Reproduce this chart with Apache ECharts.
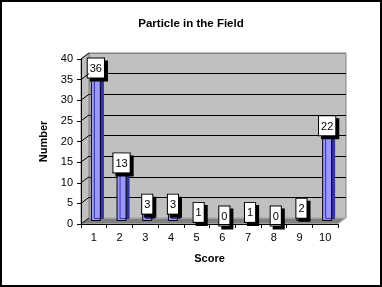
<!DOCTYPE html>
<html>
<head>
<meta charset="utf-8">
<script src="https://cdn.jsdelivr.net/npm/echarts@6/dist/echarts.min.js"></script>
<style>
  html, body { margin: 0; padding: 0; background: #fff; }
  #chart { width: 382px; height: 287px; }
</style>
</head>
<body>
<div id="chart"></div>
<script>
// data
const scores = ['1', '2', '3', '4', '5', '6', '7', '8', '9', '10']
const counts = [36, 13, 3, 3, 1, 0, 1, 0, 2, 22]
const yMin = 0, yMax = 40, yStep = 5

// fake 3d: front axes, bars in the middle, back wall behind
const W = 257, H = 165
const front = { left: 81, top: 59 }
const depth = { dx: 8, dy: -6 }
const FONT = 'Liberation Sans'

const chart = echarts.init(document.getElementById('chart'))

// back wall grid lines: grey at floor and top edge, black in between
const wallLines = []
for (let v = yMin; v <= yMax; v += yStep) wallLines.push(v === yMin || v === yMax ? '#808080' : '#000')

const hiddenX = (gi) => ({ type: 'category', gridIndex: gi, data: scores, show: false })
const hiddenY = (gi) => ({ type: 'value', gridIndex: gi, min: yMin, max: yMax, interval: yStep, show: false })

chart.setOption({
  animation: false,
  title: {
    text: 'Particle in the Field',
    left: 'center',
    top: 13,
    textStyle: { fontFamily: FONT, fontSize: 11.5, fontWeight: 'bold', color: '#000' },
  },
  grid: [
    {
      left: front.left + depth.dx, top: front.top + depth.dy, width: W, height: H,
      show: true, backgroundColor: '#C0C0C0', borderColor: '#808080', borderWidth: 1,
      outerBoundsMode: 'none',
    },
    { left: front.left + depth.dx / 2 - 2, top: front.top + depth.dy / 2, width: W, height: H, outerBoundsMode: 'none' },
    { left: front.left, top: front.top, width: W, height: H, outerBoundsMode: 'none' },
  ],
  xAxis: [
    hiddenX(0),
    hiddenX(1),
    {
      type: 'category', gridIndex: 2, data: scores, z: 5,
      name: 'Score', nameLocation: 'middle', nameGap: 29,
      nameTextStyle: { fontFamily: FONT, fontSize: 11, fontWeight: 'bold', color: '#000' },
      axisLine: { lineStyle: { color: '#000', width: 1 } },
      axisTick: { show: true, length: 4, lineStyle: { color: '#000' } },
      axisLabel: { fontFamily: FONT, fontSize: 11, color: '#000', margin: 8 },
      splitLine: { show: false },
    },
  ],
  yAxis: [
    {
      type: 'value', gridIndex: 0, min: yMin, max: yMax, interval: yStep,
      axisLine: { show: false }, axisTick: { show: false }, axisLabel: { show: false },
      splitLine: { show: true, lineStyle: { color: wallLines, width: 1 } },
    },
    hiddenY(1),
    {
      type: 'value', gridIndex: 2, min: yMin, max: yMax, interval: yStep, z: 5,
      name: 'Number', nameLocation: 'middle', nameGap: 25, nameRotate: 90,
      nameTextStyle: { fontFamily: FONT, fontSize: 11, fontWeight: 'bold', color: '#000' },
      axisLine: { show: true, lineStyle: { color: '#000', width: 1 } },
      axisTick: { show: true, length: 4, lineStyle: { color: '#000' } },
      axisLabel: { fontFamily: FONT, fontSize: 11, color: '#000', margin: 8 },
      splitLine: { show: false },
    },
  ],
  series: [
    {
      type: 'bar',
      xAxisIndex: 1,
      yAxisIndex: 1,
      data: counts,
      barWidth: 10,
      z: 3,
      itemStyle: {
        color: '#9999FF',
        borderColor: '#000',
        borderWidth: 1,
        shadowColor: '#333399',
        shadowOffsetX: 3,
        shadowOffsetY: -2,
        shadowBlur: 0,
      },
      label: {
        show: true,
        position: 'top',
        distance: -5,
        fontFamily: FONT,
        fontSize: 11,
        color: '#000',
        backgroundColor: '#fff',
        borderColor: '#000',
        borderWidth: 1,
        padding: [5, 2, 3, 2],
        shadowColor: '#000',
        shadowOffsetX: 3,
        shadowOffsetY: 3,
        shadowBlur: 0,
      },
    },
  ],
})

// side wall, floor and the short slanted lines on the side wall
const x0 = front.left, x1 = front.left + W
const yTop = front.top, yBot = front.top + H
const { dx, dy } = depth
const slants = []
for (let v = yMin; v <= yMax; v += yStep) {
  const yf = chart.convertToPixel({ yAxisIndex: 2 }, v)
  const yb = chart.convertToPixel({ yAxisIndex: 0 }, v)
  slants.push({
    type: 'line', z: 4, silent: true,
    shape: { x1: x0, y1: yf, x2: x0 + dx, y2: yb },
    style: { stroke: '#000', lineWidth: 1 },
  })
}

chart.setOption({
  graphic: [
    {
      type: 'polygon', z: 1, silent: true,
      shape: { points: [[x0, yTop], [x0 + dx, yTop + dy], [x0 + dx, yBot + dy], [x0, yBot]] },
      style: { fill: '#C0C0C0', stroke: '#808080', lineWidth: 1 },
    },
    {
      type: 'polygon', z: 1, silent: true,
      shape: { points: [[x0, yBot], [x1, yBot], [x1 + dx, yBot + dy], [x0 + dx, yBot + dy]] },
      style: { fill: '#808080', stroke: '#C0C0C0', lineWidth: 1 },
    },
    ...slants,
    {
      type: 'rect', z: 10, silent: true,
      shape: { x: 1, y: 1, width: 380, height: 285 },
      style: { fill: null, stroke: '#000', lineWidth: 2 },
    },
  ],
})
</script>
</body>
</html>
